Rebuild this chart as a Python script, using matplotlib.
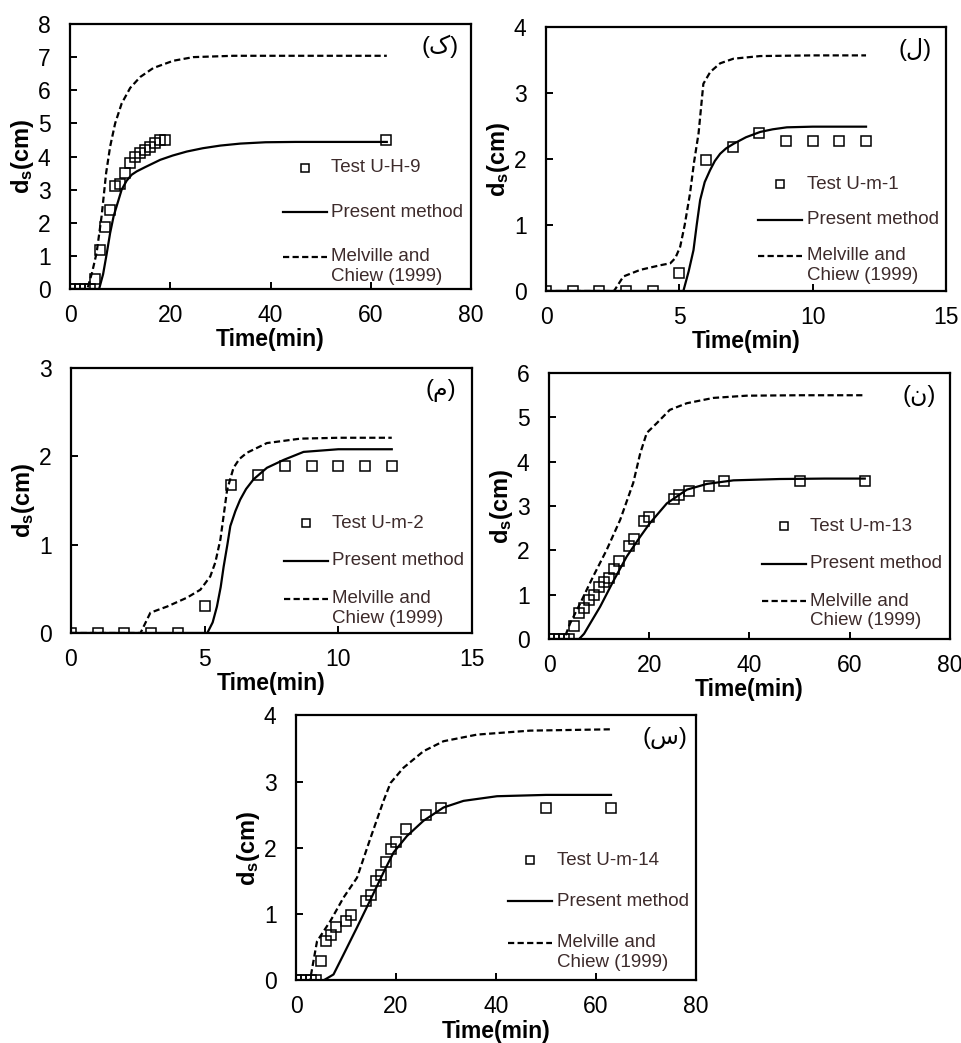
import matplotlib
matplotlib.use("Agg")
import matplotlib.pyplot as plt

plt.rcParams['font.family'] = ['Liberation Sans', 'DejaVu Sans']
plt.rcParams['mathtext.fontset'] = 'custom'
plt.rcParams['mathtext.rm'] = 'Liberation Sans'
plt.rcParams['mathtext.bf'] = 'Liberation Sans:bold'

# --- panel (ک) : Test U-H-9 ---
t_uh9 = [0, 1, 2, 3, 4, 5, 6, 7, 8, 9, 10, 11, 12, 13, 14, 15, 16, 17, 18, 19, 63]
d_uh9 = [0, 0, 0, 0, 0, 0.3, 1.19, 1.86, 2.39, 3.1, 3.17, 3.5, 3.8, 4.0, 4.1, 4.19, 4.3, 4.4, 4.5, 4.5, 4.5]
tp_uh9 = [0, 5.8, 6.6, 7.3, 8.0, 8.7, 9.3, 10.3, 11.3, 12.3, 13.3, 15, 18, 20.5, 23.3, 26.5, 30, 34, 39, 45, 55, 63.2]
dp_uh9 = [0, 0, 0.45, 1.05, 1.69, 2.2, 2.5, 3.0, 3.27, 3.45, 3.55, 3.68, 3.9, 4.03, 4.15, 4.25, 4.33, 4.39, 4.43, 4.44, 4.44, 4.44]
tm_uh9 = [0, 3.46, 4.4, 5.3, 6.3, 7.2, 8.0, 9.0, 10.3, 12, 14, 16.6, 20.6, 24.6, 32.6, 45, 63.2]
dm_uh9 = [0, 0, 0.5, 1.09, 2.2, 3.5, 4.3, 5.0, 5.6, 6.07, 6.4, 6.67, 6.89, 7.0, 7.04, 7.04, 7.04]

# --- panel (ل) : Test U-m-1 ---
t_um1 = [0, 1, 2, 3, 4, 5, 6, 7, 8, 9, 10, 11, 12]
d_um1 = [0, 0, 0, 0, 0, 0.28, 1.98, 2.18, 2.39, 2.28, 2.28, 2.28, 2.28]
tp_um1 = [0, 5.15, 5.35, 5.53, 5.65, 5.78, 5.95, 6.15, 6.33, 6.53, 6.75, 7.03, 7.5, 8.03, 8.5, 9.03, 10, 12]
dp_um1 = [0, 0, 0.3, 0.62, 1.0, 1.38, 1.65, 1.83, 1.97, 2.08, 2.16, 2.23, 2.33, 2.41, 2.45, 2.48, 2.49, 2.49]
tm_um1 = [0, 2.55, 2.9, 3.53, 4.28, 4.66, 4.85, 5.03, 5.2, 5.4, 5.55, 5.72, 5.9, 6.16, 6.53, 7.03, 8.03, 10, 12]
dm_um1 = [0, 0, 0.22, 0.32, 0.39, 0.42, 0.5, 0.67, 1.0, 1.48, 1.95, 2.39, 3.14, 3.32, 3.45, 3.52, 3.56, 3.57, 3.57]

# --- panel (م) : Test U-m-2 ---
t_um2 = [0, 1, 2, 3, 4, 5, 6, 7, 8, 9, 10, 11, 12]
d_um2 = [0, 0, 0, 0, 0, 0.30, 1.68, 1.79, 1.89, 1.89, 1.89, 1.89, 1.89]
tp_um2 = [0, 5.1, 5.3, 5.46, 5.6, 5.71, 5.85, 5.96, 6.15, 6.33, 6.55, 6.83, 7.33, 7.96, 8.7, 10, 12]
dp_um2 = [0, 0, 0.12, 0.3, 0.52, 0.75, 1.0, 1.21, 1.38, 1.51, 1.63, 1.74, 1.87, 1.96, 2.05, 2.08, 2.08]
tm_um2 = [0, 2.6, 2.97, 3.6, 4.34, 4.84, 5.21, 5.4, 5.59, 5.72, 5.84, 6.08, 6.3, 6.58, 7.33, 8.58, 10, 12]
dm_um2 = [0, 0, 0.23, 0.3, 0.40, 0.49, 0.64, 0.8, 1.06, 1.35, 1.62, 1.87, 1.97, 2.04, 2.15, 2.2, 2.21, 2.21]

# --- panel (ن) : Test U-m-13 ---
t_um13 = [0, 1, 2, 3, 4, 5, 6, 7, 8, 9, 10, 11, 12, 13, 14, 16, 17, 19, 20, 25, 26, 28, 32, 35, 50, 63]
d_um13 = [0, 0, 0, 0, 0, 0.29, 0.59, 0.69, 0.88, 0.99, 1.17, 1.28, 1.37, 1.57, 1.77, 2.09, 2.26,
          2.67, 2.76, 3.16, 3.25, 3.34, 3.46, 3.57, 3.57, 3.57]
tp_um13 = [0, 6, 7, 8.2, 10.2, 12.8, 15.5, 18.2, 20.1, 23.5, 27.5, 31.5, 36.8, 46, 55, 63]
dp_um13 = [0, 0, 0.12, 0.35, 0.73, 1.3, 1.86, 2.31, 2.61, 3.06, 3.37, 3.5, 3.58, 3.61, 3.62, 3.62]
tm_um13 = [0, 3, 4.2, 6.2, 8.8, 11.5, 14.2, 16.8, 18.2, 19.5, 21.5, 24.1, 27.5, 32.8, 39.4, 50, 63]
dm_um13 = [0, 0, 0.35, 0.8, 1.41, 2.01, 2.69, 3.52, 4.19, 4.65, 4.87, 5.17, 5.32, 5.44, 5.49, 5.5, 5.5]

# --- panel (س) : Test U-m-14 ---
t_um14 = [0, 1, 2, 3, 4, 5, 6, 7, 8, 10, 11, 14, 15, 16, 17, 18, 19, 20, 22, 26, 29, 50, 63]
d_um14 = [0, 0, 0, 0, 0, 0.29, 0.59, 0.69, 0.8, 0.9, 0.99, 1.2, 1.29, 1.5, 1.59, 1.79, 1.99, 2.09,
          2.28, 2.5, 2.6, 2.6, 2.6]
tp_um14 = [0, 5.5, 7.5, 9.5, 12.2, 14.9, 17.5, 19.5, 22.2, 25.5, 29.5, 33.5, 40.2, 50, 63]
dp_um14 = [0, 0, 0.09, 0.39, 0.8, 1.22, 1.63, 1.93, 2.18, 2.41, 2.61, 2.71, 2.78, 2.8, 2.8]
tm_um14 = [0, 2.8, 4.2, 6.9, 9.5, 12.2, 14.9, 17.5, 18.9, 21.5, 25.5, 29.5, 36.2, 46.8, 63]
dm_um14 = [0, 0, 0.59, 0.9, 1.25, 1.55, 2.15, 2.71, 2.98, 3.21, 3.46, 3.61, 3.71, 3.77, 3.79]

panels = [
    # tag, test name, data, xmax, xstep, ymax, axes rect, legend first row y, row step
    ("ک", "Test U-H-9", (t_uh9, d_uh9, tp_uh9, dp_uh9, tm_uh9, dm_uh9), 80, 20, 8,
     [0.0728, 0.7229, 0.4168, 0.2541], 0.457, 0.168),
    ("ل", "Test U-m-1", (t_um1, d_um1, tp_um1, dp_um1, tm_um1, dm_um1), 15, 5, 4,
     [0.5676, 0.7210, 0.4158, 0.2531], 0.405, 0.136),
    ("م", "Test U-m-2", (t_um2, d_um2, tp_um2, dp_um2, tm_um2, dm_um2), 15, 5, 3,
     [0.0738, 0.3931, 0.4168, 0.2541], 0.415, 0.143),
    ("ن", "Test U-m-13", (t_um13, d_um13, tp_um13, dp_um13, tm_um13, dm_um13), 80, 20, 6,
     [0.5707, 0.3873, 0.4168, 0.2550], 0.425, 0.141),
    ("س", "Test U-m-14", (t_um14, d_um14, tp_um14, dp_um14, tm_um14, dm_um14), 80, 20, 4,
     [0.3077, 0.0600, 0.4158, 0.2541], 0.453, 0.155),
]

legend_color = '#3d2b2b'
dash = (2.8, 1.5)

fig = plt.figure(figsize=(9.62, 10.43), dpi=100)

for tag, name, data, xmax, xstep, ymax, rect, ly0, lstep in panels:
    t_obs, d_obs, t_pm, d_pm, t_mc, d_mc = data
    ax = fig.add_axes(rect)
    ax.plot(t_pm, d_pm, color='black', lw=1.6)
    ax.plot(t_mc, d_mc, color='black', lw=1.6, dashes=dash)
    ax.plot(t_obs, d_obs, ls='none', marker='s', ms=7.5, mfc='none', mec='black', mew=1.1)

    ax.set_xlim(0, xmax)
    ax.set_ylim(0, ymax)
    ax.set_xticks(range(0, xmax + 1, xstep))
    ax.set_yticks(range(0, ymax + 1))
    ax.tick_params(direction='in', length=5, width=1.4, labelsize=16.5)
    ax.tick_params(axis='x', pad=10.5)
    ax.tick_params(axis='y', pad=14)
    for sp in ax.spines.values():
        sp.set_linewidth(1.6)

    ax.set_xlabel("Time(min)", fontsize=16.5, fontweight='bold')
    ax.xaxis.set_label_coords(0.5, -0.148)
    ax.set_ylabel(r"$\mathbf{d_s(cm)}$", fontsize=17)
    ax.yaxis.set_label_coords(-0.085, 0.5)

    ax.text(0.922, 0.915, "(" + tag + ")", transform=ax.transAxes, fontsize=17,
            ha='center', va='center')

    # legend drawn by hand so that the two-line label sits like the original
    rows = [ly0, ly0 - lstep, ly0 - 2 * lstep]
    ax.plot([0.585], [rows[0]], transform=ax.transAxes, ls='none', marker='s', ms=6,
            mfc='none', mec='black', mew=1.1, clip_on=False)
    ax.plot([0.53, 0.64], [rows[1], rows[1]], transform=ax.transAxes, color='black', lw=1.6)
    ax.plot([0.53, 0.64], [rows[2], rows[2]], transform=ax.transAxes, color='black', lw=1.6,
            dashes=dash)
    labels = [name, "Present method", "Melville and", "Chiew (1999)"]
    ys = rows + [rows[2] - 0.075]
    for lab, y in zip(labels, ys):
        ax.text(0.652, y, lab, transform=ax.transAxes, fontsize=13.5, color=legend_color,
                ha='left', va='center')

fig.savefig("out.png", dpi=100)
